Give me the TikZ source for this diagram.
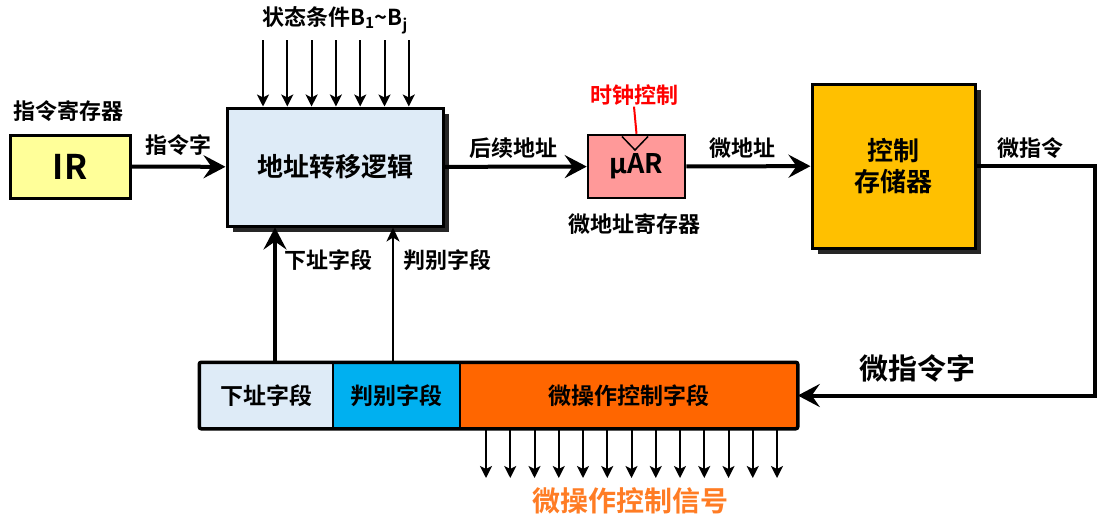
\documentclass[tikz,border=0pt]{standalone}
\usepackage{fontspec}
\setmainfont{Noto Sans CJK SC}[BoldFont={Noto Sans CJK SC Bold}]
\usetikzlibrary{arrows.meta, shadows}

\definecolor{irYellow}{HTML}{FFFF99}
\definecolor{logicBlue}{HTML}{DEEBF7}
\definecolor{marPink}{HTML}{FF9999}
\definecolor{memGold}{HTML}{FFC000}
\definecolor{fieldCyan}{HTML}{00B0F0}
\definecolor{fieldOrange}{HTML}{FF6600}
\definecolor{sigOrange}{HTML}{FF7C24}
\definecolor{clkRed}{HTML}{FF0000}

\newcommand{\lblfont}{\bfseries\fontsize{22}{24}\selectfont}
\newcommand{\boxfont}{\bfseries\fontsize{26}{31}\selectfont}

\begin{document}
\begin{tikzpicture}[x=1pt, y=-1pt,
    box/.style={draw, line width=3pt, inner sep=0pt, align=center, font=\boxfont},
    field/.style={draw, line width=1.5pt, inner sep=0pt, minimum height=65pt, font=\bfseries\fontsize{23}{25}\selectfont},
    lbl/.style={inner sep=1pt, font=\lblfont},
    shade/.style={drop shadow={shadow xshift=6pt, shadow yshift=-6pt, fill=black!85, opacity=1}},
    bigarrow/.style={line width=4pt, -{Stealth[length=22pt, width=23pt, inset=8pt]}},
    pinarrow/.style={line width=2pt, -{Stealth[length=12pt, width=12pt, inset=3pt]}}]
        \useasboundingbox (0,0) rectangle (1106,525);

        % main boxes
        \node[box, fill=irYellow, minimum width=120pt, minimum height=63pt, font=\bfseries\fontsize{34}{36}\selectfont] (ir) at (70,166.5) {IR};
        \node[box, shade, fill=logicBlue, minimum width=216pt, minimum height=118pt] (logic) at (335,167) {地址转移逻辑};
        \node[box, line width=2.5pt, fill=marPink, minimum width=97pt, minimum height=63pt, font=\bfseries\fontsize{27}{29}\selectfont] (mar) at (636.5,166.5) {\raisebox{-4pt}{μAR}};
        \node[box, shade, fill=memGold, minimum width=163pt, minimum height=164pt] (cm) at (893.5,166) {控制\\存储器};

        % microinstruction word
        \node[field, fill=logicBlue, minimum width=133pt] (next) at (266.5,395.5) {下址字段};
        \node[field, fill=fieldCyan, minimum width=127pt] (test) at (396.5,395.5) {判别字段};
        \node[field, fill=fieldOrange, minimum width=337pt] (ops) at (628.5,395.5) {微操作控制字段};
        \draw[line width=3.5pt, rounded corners=2pt] (next.north west) rectangle (ops.south east);

        % labels
        \node[lbl] (irname) at (68,111) {指令寄存器};
        \node[lbl] (word) at (178,145) {指令字};
        \node[lbl] (cond) at (335,20) {状态条件B\textsubscript{1}\textasciitilde B\textsubscript{j}};
        \node[lbl] (follow) at (513,148) {后续地址};
        \node[lbl, text=clkRed] (clk) at (634,95) {时钟控制};
        \node[lbl] (marname) at (634,224) {微地址寄存器};
        \node[lbl] (maddr) at (742,148) {微地址};
        \node[lbl] (minstr) at (1030,148) {微指令};
        \node[lbl] (nextlbl) at (328,260) {下址字段};
        \node[lbl] (testlbl) at (447,260) {判别字段};
        \node[lbl, font=\bfseries\fontsize{29}{31}\selectfont] (wordlbl) at (917,368) {微指令字};
        \node[lbl, text=sigOrange, font=\bfseries\fontsize{28}{30}\selectfont] (signals) at (630,501) {微操作控制信号};

        % clock input
        \draw[clkRed, line width=2pt] (clk.south) -- (mar.north);
        \draw[line width=1.5pt] (622,136.5) -- (635,150) -- (648,136.5);

        % data path
        \draw[bigarrow] (ir) -- (logic);
        \draw[bigarrow] (logic) -- (mar);
        \draw[bigarrow] (mar) -- (cm);
        \coordinate (bend) at (1095,395.5);
        \draw[bigarrow] (cm.east) -| (bend) -- (ops.east);

        % fields back to the logic
        \coordinate (nextup) at (275,361);
        \coordinate (testup) at (393,361);
        \draw[bigarrow] (nextup) -- (nextup |- logic.south);
        \draw[pinarrow, -{Stealth[length=14pt, width=13pt, inset=4pt]}] (testup) -- (testup |- logic.south);

        % condition inputs
        \foreach \i in {0,...,6} {
            \coordinate (c\i) at (263+24.3*\i,40);
            \draw[pinarrow] (c\i) -- (c\i |- logic.north);
        }

        % control signals
        \foreach \i in {0,...,12} {
            \coordinate (s\i) at (486+24.25*\i,478);
            \draw[pinarrow] (s\i |- ops.south) -- (s\i);
        }

\end{tikzpicture}
\end{document}
